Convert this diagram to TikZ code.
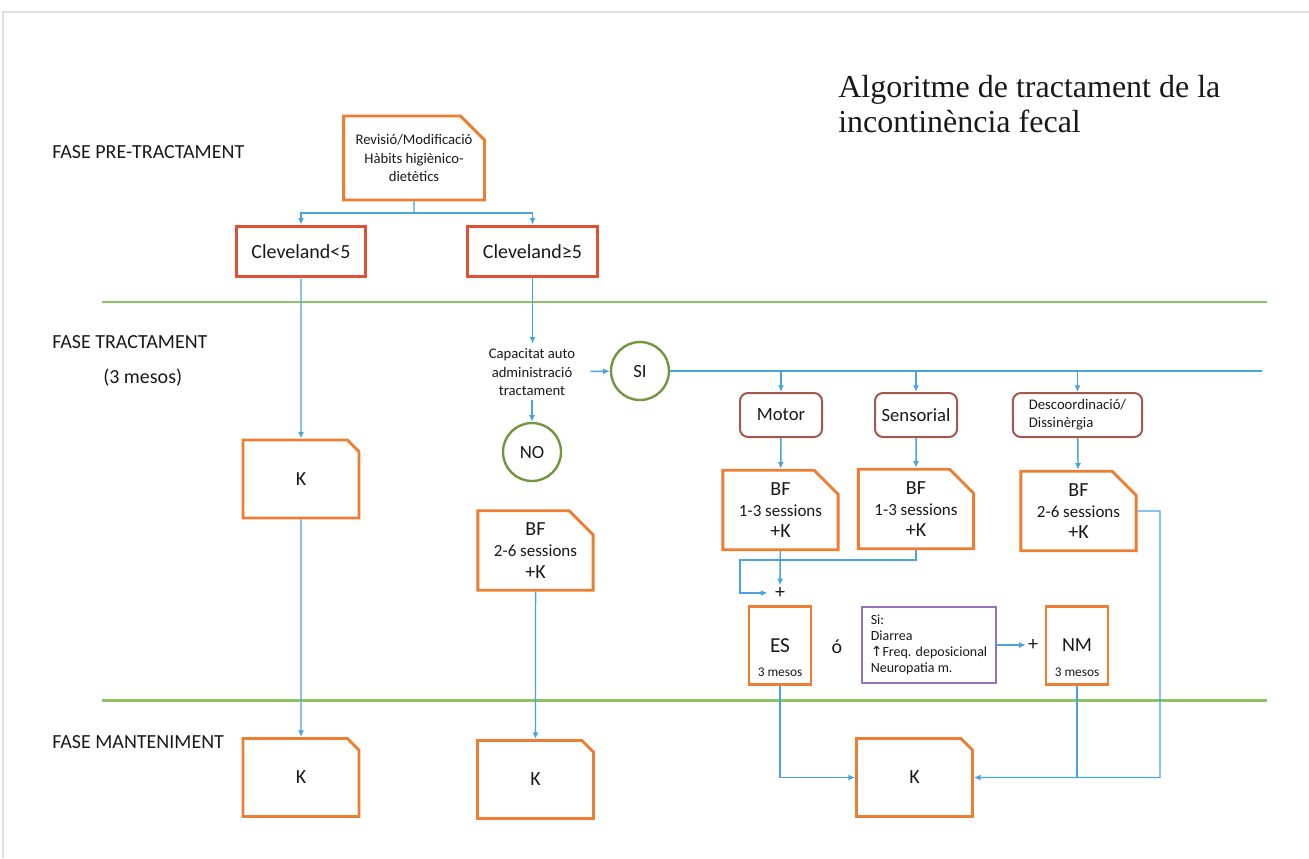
\documentclass[tikz,border=0pt]{standalone}
\usepackage{fontspec}
\setmainfont{Carlito}
\newfontfamily\titlefont{Liberation Serif}
\newfontfamily\symfont{DejaVu Sans}
\usetikzlibrary{arrows.meta,shapes.misc}
\definecolor{cblue}{RGB}{72,164,220}
\definecolor{corange}{RGB}{237,125,49}
\definecolor{cred}{RGB}{226,80,52}
\definecolor{cbrown}{RGB}{165,86,78}
\definecolor{cgreen}{RGB}{112,150,64}
\definecolor{clane}{RGB}{140,196,100}
\definecolor{cpurple}{RGB}{150,115,190}
\definecolor{ctext}{RGB}{25,25,25}
\newcommand\fsz[2]{\fontsize{#1}{#2}\selectfont}
\begin{document}
\begin{tikzpicture}[x=0.75pt,y=-0.75pt,
  every node/.style={text=ctext},
  line/.style={draw=cblue, line width=1.1pt},
  arr/.style={line, -{Latex[length=5pt,width=4.5pt]}},
  obox/.style={chamfered rectangle, chamfered rectangle corners=north east,
    chamfered rectangle sep=9pt, draw=corange, line width=2.2pt, fill=white,
    inner sep=0pt, align=center},
  kbox/.style={obox, minimum width=87pt, minimum height=58.5pt, font=\fsz{15}{18}},
  bfbox/.style={obox, minimum width=86.5pt, minimum height=58.5pt, font=\fsz{12.75}{16}},
  smallbox/.style={obox, minimum width=46.5pt, minimum height=58pt, chamfered rectangle sep=7.5pt},
  rbox/.style={rectangle, draw=cred, line width=2.2pt, inner sep=0pt,
    minimum width=97pt, minimum height=38pt, font=\fsz{15}{18}},
  cbox/.style={rectangle, rounded corners=6pt, draw=cbrown, line width=1.5pt,
    minimum height=33pt, minimum width=61.5pt, font=\fsz{14}{17}},
  ccirc/.style={circle, draw=cgreen, line width=1.8pt, minimum size=43.5pt,
    inner sep=0pt, font=\fsz{14}{17}},
  phase/.style={anchor=west, inner sep=0pt, font=\fsz{15}{18}},
  lane/.style={draw=clane, line width=2pt},
  plus/.style={inner sep=1.5pt, font=\fsz{15}{18}},
]
\useasboundingbox (0,0) rectangle (1309,858);

% page frame
\draw[black!12, line width=1.5pt] (3,858) -- (3,12) -- (1309,12);

% phase separators
\draw[lane] (102,302) -- (1267,302);
\draw[lane] (102,700.5) -- (1267,700.5);

% title and phase labels
\node[anchor=north west, inner sep=0pt, align=left, font=\titlefont\fsz{24}{26.5}]
  (title) at (838,75) {Algoritme de tractament de la\\incontinència fecal};
\node[phase] (p1) at (52,152) {FASE PRE-TRACTAMENT};
\node[phase] (p2) at (52,342) {FASE TRACTAMENT};
\node[phase] (p3) at (103,378) {(3 mesos)};
\node[phase] (p4) at (52,742) {FASE MANTENIMENT};

% pre-treatment
\node[obox, minimum width=100.5pt, minimum height=63pt, font=\fsz{11}{14}]
  (rev) at (414,158) {Revisió/Modificació\\Hàbits higiènico-\\dietètics};
\node[rbox] (cl5) at (301,251.5) {Cleveland<5};
\node[rbox] (cl6) at (532.5,251.5) {Cleveland≥5};
\coordinate (split) at (414,213);

% left column
\node[kbox] (k1) at (301,479) {K};
\node[kbox] (k2) at (301,777.5) {K};

% middle column
\node[align=center, font=\fsz{11}{13.9}] (cap) at (532,372) {Capacitat auto\\administració\\tractament};
\node[ccirc] (no) at (532,452) {NO};
\node[ccirc] (si) at (640,371) {SI};
\coordinate (busend) at (1262,371);
\node[bfbox] (bfc) at (535.5,550.5) {{\fsz{15}{16}BF}\\2-6 sessions\\{\fsz{15}{16}+K}};
\node[kbox] (kc) at (535.5,779.5) {K};

% right part
\node[cbox] (mot) at (781,415) {Motor};
\node[cbox] (sen) at (916,415) {Sensorial};
\node[cbox, minimum width=97pt, font=\fsz{11}{13.5}, align=left] (des) at (1077.5,415) {Descoordinació/\\Dissinèrgia};
\node[bfbox] (bfm) at (780.5,510) {{\fsz{15}{16}BF}\\1-3 sessions\\{\fsz{15}{16}+K}};
\node[bfbox] (bfs) at (916,509) {{\fsz{15}{16}BF}\\1-3 sessions\\{\fsz{15}{16}+K}};
\node[bfbox] (bfd) at (1078.5,511) {{\fsz{15}{16}BF}\\2-6 sessions\\{\fsz{15}{16}+K}};

\node[plus] (plus1) at (780,593) {+};
\node[smallbox] (es) at (780,645.5) {};
\node[font=\fsz{16}{18}] (estxt) at (780,646) {ES};
\node[font=\fsz{10}{12}] (esdur) at (780,672) {3 mesos};
\node[font=\fsz{15}{18}] (or) at (837,647) {ó};
\node[draw=cpurple, line width=1.1pt, minimum width=100.5pt, minimum height=57pt,
  align=left, font=\fsz{10.5}{12}] (pur) at (929,645)
  {Si:\\Diarrea\\{\symfont ↑}Freq. deposicional\\Neuropatia m.};
\node[plus] (plus2) at (1033,645) {+};
\node[smallbox] (nm) at (1077,645.5) {};
\node[font=\fsz{15}{18}] (nmtxt) at (1077,645) {NM};
\node[font=\fsz{10}{12}] (nmdur) at (1077,672) {3 mesos};
\node[kbox] (kr) at (914.5,777.5) {K};
\coordinate (rt) at (1160,777.5);
\coordinate (elbow) at (740,560);

% connectors
\draw[line] (rev) -- (split);
\draw[arr] (split) -| (cl5);
\draw[arr] (split) -| (cl6);
\draw[arr] (cl5) -- (k1);
\draw[arr] (k1) -- (k2);
\draw[arr] (cl6.south) -- (cl6.south |- cap.north);
\draw[arr] (cap) -- (no);
\draw[arr, shorten <=8pt] (cap) -- (si);
\draw[line] (si) -- (busend);
\draw[arr] (mot |- busend) -- (mot);
\draw[arr] (sen |- busend) -- (sen);
\draw[arr] (des |- busend) -- (des);
\draw[arr] (mot) -- (bfm);
\draw[arr] (sen) -- (bfs);
\draw[arr] (des) -- (bfd);
\draw[arr] (bfc) -- (kc);
\draw[arr] (bfm) -- (plus1);
\draw[arr, shorten >=4pt] (bfs) |- (elbow) |- (plus1);
\draw[arr, line width=0.9pt] (pur) -- (plus2);
\draw[line, line width=0.9pt] (nm) -- (nm |- kr);
\draw[arr, line width=0.9pt] (es) |- (kr);
\draw[arr, line width=0.9pt] (bfd) -| (rt) -- (kr);
\end{tikzpicture}
\end{document}
